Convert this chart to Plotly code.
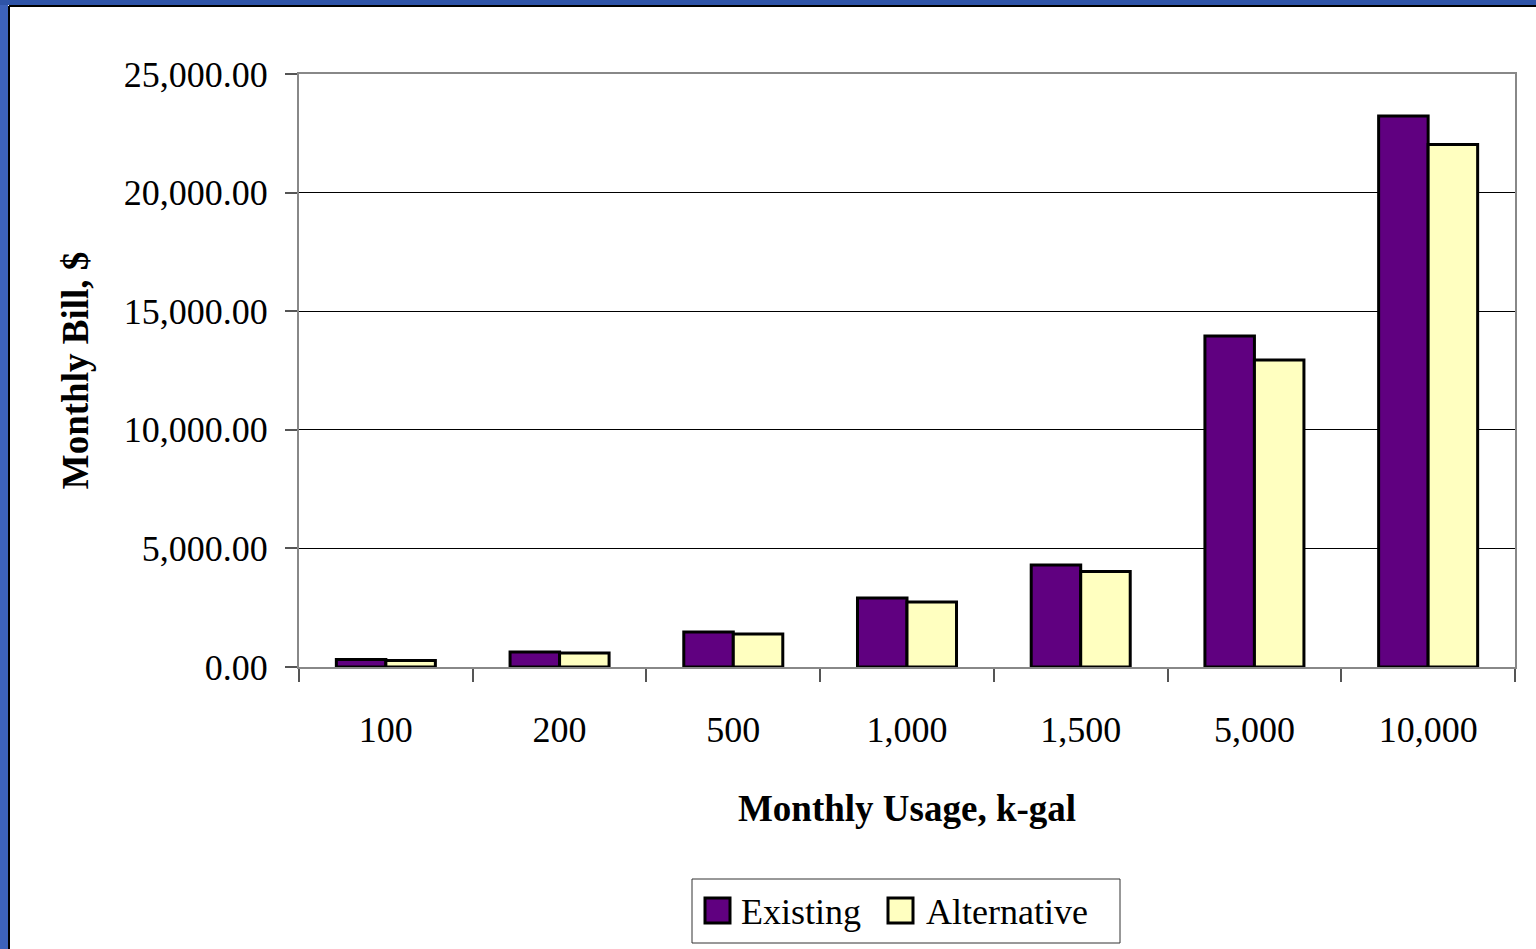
import plotly.graph_objects as go

categories = ["100", "200", "500", "1,000", "1,500", "5,000", "10,000"]
existing = [316, 632, 1475, 2910, 4300, 13955, 23230]
alternative = [274, 590, 1390, 2740, 4026, 12943, 22028]
series_names = ["Existing", "Alternative"]
y_ticks = [0, 5000, 10000, 15000, 20000, 25000]

W, H = 1536, 949
L, R, T, B = 299, 21, 74, 282
pw, ph = W - L - R, H - T - B

def px(x):
    return (x - L) / pw

def py(y):
    return (H - B - y) / ph

FONT = "Liberation Serif"
C_EX = "#600080"
C_ALT = "#FFFFC0"
TS = 36   # tick / legend font size
TT = 37   # title font size

fig = go.Figure()
fig.add_trace(go.Bar(x=categories, y=existing, name=series_names[0],
                     marker=dict(color=C_EX, line=dict(color="black", width=3))))
fig.add_trace(go.Bar(x=categories, y=alternative, name=series_names[1],
                     marker=dict(color=C_ALT, line=dict(color="black", width=3))))

fig.update_layout(
    width=W, height=H,
    margin=dict(l=L, r=R, t=T, b=B),
    paper_bgcolor="white", plot_bgcolor="white",
    barmode="group", bargap=0.43, bargroupgap=0,
    showlegend=False,
    font=dict(family=FONT, size=TS, color="black"),
)
fig.update_xaxes(
    type="category", tickson="boundaries", ticks="outside", ticklen=13,
    tickcolor="#555", tickwidth=1.5, showline=True, linecolor="#888", linewidth=2,
    mirror=True, showgrid=False, tickfont=dict(size=TS), ticklabelstandoff=30,
    title=dict(text="<b>Monthly Usage, k-gal</b>", font=dict(size=TT), standoff=46),
)
fig.update_yaxes(
    range=[0, 25000], tickvals=y_ticks, tickformat=",.2f", ticks="outside",
    ticklen=12, tickcolor="#555", tickwidth=1.5, showline=True, linecolor="#888",
    linewidth=2, mirror=True, showgrid=True, gridcolor="black", gridwidth=1,
    tickfont=dict(size=TS), ticklabelstandoff=10, zeroline=False,
    title=dict(text="<b>Monthly Bill, $</b>", font=dict(size=TT), standoff=24),
)

shapes = []
blue = "#3d62bb"
# left and top blue border
shapes.append(dict(type="rect", xref="paper", yref="paper", x0=px(0), x1=px(8),
                   y0=py(H), y1=py(0), fillcolor=blue, line=dict(width=0), layer="above"))
shapes.append(dict(type="rect", xref="paper", yref="paper", x0=px(0), x1=px(W),
                   y0=py(5), y1=py(0), fillcolor="#2f54a8", line=dict(width=0), layer="above"))
shapes.append(dict(type="line", xref="paper", yref="paper", x0=px(9), x1=px(9),
                   y0=py(H), y1=py(6), line=dict(color="black", width=2)))
shapes.append(dict(type="line", xref="paper", yref="paper", x0=px(9), x1=px(W),
                   y0=py(6), y1=py(6), line=dict(color="black", width=2)))
# legend box
shapes.append(dict(type="rect", xref="paper", yref="paper", x0=px(692), x1=px(1120),
                   y0=py(943), y1=py(879), line=dict(color="#333", width=1), fillcolor="white"))
annotations = []
legend_items = [(705, C_EX, series_names[0], 739), (888, C_ALT, series_names[1], 924)]
for sx, col, name, tx in legend_items:
    shapes.append(dict(type="rect", xref="paper", yref="paper", x0=px(sx), x1=px(sx + 25),
                       y0=py(923), y1=py(898), fillcolor=col, line=dict(color="black", width=3)))
    annotations.append(dict(xref="paper", yref="paper", x=px(tx), y=py(912), text=name,
                            showarrow=False, xanchor="left", yanchor="middle",
                            font=dict(family=FONT, size=TS, color="black")))

fig.update_layout(shapes=shapes, annotations=annotations)
fig.write_html("out.html")
